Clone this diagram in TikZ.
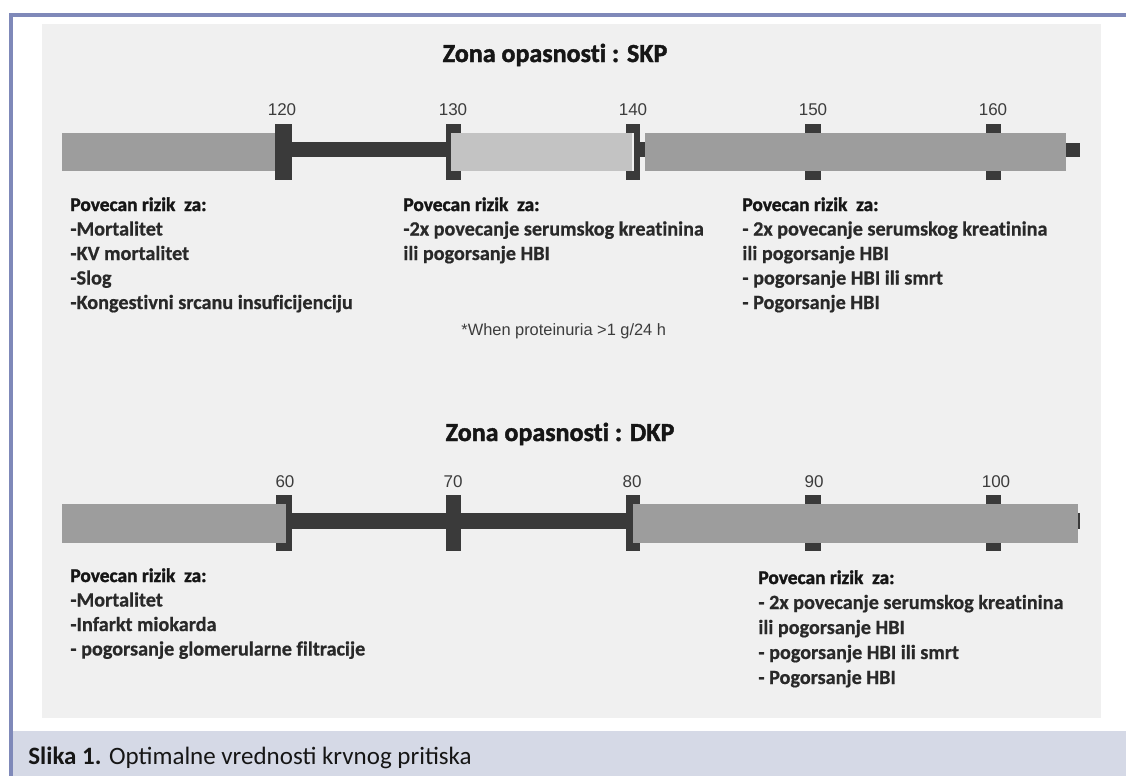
\documentclass[tikz,border=0pt]{standalone}
\usepackage{fontspec}
\setmainfont{Carlito}[Ligatures=NoCommon]
\newfontfamily\heavyfont{Carlito}[Ligatures=NoCommon, BoldFeatures={FakeBold=1.6}]
\newfontfamily\itemfont{Carlito}[Ligatures=NoCommon, BoldFeatures={FakeBold=0.7}]
\newfontfamily\capfont{Carlito}
\newfontfamily\tickfont{Liberation Sans}
\definecolor{framebl}{HTML}{7F89B9}
\definecolor{bandbl}{HTML}{D5D9E6}
\definecolor{panelgr}{HTML}{F0F0F0}
\definecolor{bargray}{HTML}{9D9D9D}
\definecolor{barlight}{HTML}{C3C3C3}
\definecolor{barink}{HTML}{3A3A3A}
\definecolor{inkc}{HTML}{161616}
\definecolor{tickc}{HTML}{3C3C3C}
\begin{document}
\begin{tikzpicture}[x=0.5pt,y=-0.5pt,
	riskhead/.style={anchor=base west, inner sep=0pt, text=inkc, font=\heavyfont\fontsize{9.7}{11}\selectfont\bfseries},
	riskitem/.style={anchor=base west, inner sep=0pt, text=inkc!92, font=\itemfont\fontsize{10.1}{12}\selectfont\bfseries},
	ticklbl/.style={anchor=base, inner sep=0pt, text=tickc, font=\tickfont\fontsize{8.5}{10}\selectfont},
	zonetitle/.style={anchor=base, inner sep=0pt, text=inkc, font=\heavyfont\fontsize{13}{15}\selectfont\bfseries},
	midbar/.style={fill=bargray},
	lightbar/.style={fill=barlight},
	inkbar/.style={fill=barink}]
		% % Frame, panel and caption band
			\useasboundingbox (0,0) rectangle (1126,776);
			\fill[framebl] (9,13) rectangle (1126,17);
			\fill[framebl] (9,13) rectangle (13,776);
			\fill[panelgr] (42,24) rectangle (1101,718);
			\fill[bandbl] (13,731) rectangle (1126,776);
			\node[anchor=base west, inner sep=0pt, text=inkc, font=\capfont\fontsize{12.5}{14}\selectfont] (caption) at (28,764)
			{\textbf{Slika 1.} Optimalne vrednosti krvnog pritiska};
		% % SKP scale
			\node[zonetitle] (skptitle) at (555,62) {Zona opasnosti : SKP};
			\foreach \x/\v in {282/120, 453/130, 633/140, 813/150, 993/160}{
				\node[ticklbl] (s\v) at (\x,115) {\v};
			}
			\fill[midbar] (62,133) rectangle (275,171);
			\fill[inkbar] (275,124) rectangle (292,180);
			\fill[inkbar] (292,142) rectangle (446,157);
			\fill[inkbar] (446,124) rectangle (451,180);
			\fill[lightbar] (451,133) rectangle (632,171);
			\fill[inkbar] (634,124) rectangle (640,180);
			\fill[inkbar] (640,142) rectangle (645,157);
			\fill[midbar] (645,133) rectangle (1066,171);
			\fill[inkbar] (1066,143) rectangle (1080,157);
			\foreach \x/\w in {446/15, 626/14, 805/16, 986/15}{
				\fill[inkbar] (\x,124) rectangle ++(\w,9);
				\fill[inkbar] (\x,171) rectangle ++(\w,9);
			}
		% % SKP notes
			\node[riskhead] (skpa) at (70,211) {Povecan rizik~ za:};
			\foreach \i/\t in {1/{-Mortalitet}, 2/{-KV mortalitet}, 3/{-Slog}, 4/{-Kongestivni srcanu insuficijenciju}}{
				\node[riskitem] (skpa\i) at (70,{211+24.5*\i}) {\t};
			}
			\node[riskhead] (skpb) at (403,211) {Povecan rizik~ za:};
			\foreach \i/\t in {1/{-2x povecanje serumskog kreatinina}, 2/{ili pogorsanje HBI}}{
				\node[riskitem] (skpb\i) at (403,{211+24.5*\i}) {\t};
			}
			\node[anchor=base west, inner sep=0pt, text=tickc, font=\tickfont\fontsize{8.2}{10}\selectfont] (proteinuria) at (461,335)
			{*When proteinuria >1 g/24 h};
			\node[riskhead] (skpc) at (742,211) {Povecan rizik~ za:};
			\foreach \i/\t in {1/{- 2x povecanje serumskog kreatinina}, 2/{ili pogorsanje HBI}, 3/{- pogorsanje HBI ili smrt}, 4/{- Pogorsanje HBI}}{
				\node[riskitem] (skpc\i) at (742,{211+24.5*\i}) {\t};
			}
		% % DKP scale
			\node[zonetitle] (dkptitle) at (560,441) {Zona opasnosti : DKP};
			\foreach \x/\v in {285/60, 453/70, 632/80, 814/90, 996/100}{
				\node[ticklbl] (d\v) at (\x,487) {\v};
			}
			\fill[midbar] (62,504) rectangle (286,543);
			\fill[inkbar] (286,495) rectangle (292,551);
			\fill[inkbar] (292,513) rectangle (626,529);
			\fill[inkbar] (446,495) rectangle (461,551);
			\fill[inkbar] (626,495) rectangle (633,551);
			\fill[midbar] (633,504) rectangle (1078,543);
			\fill[inkbar] (1078,513) rectangle (1080,529);
			\foreach \x/\w in {276/16, 626/14, 805/16, 986/15}{
				\fill[inkbar] (\x,495) rectangle ++(\w,9);
				\fill[inkbar] (\x,543) rectangle ++(\w,8);
			}
		% % DKP notes
			\node[riskhead] (dkpa) at (70,582) {Povecan rizik~ za:};
			\foreach \i/\t in {1/{-Mortalitet}, 2/{-Infarkt miokarda}, 3/{- pogorsanje glomerularne filtracije}}{
				\node[riskitem] (dkpa\i) at (70,{582+24.5*\i}) {\t};
			}
			\node[riskhead] (dkpb) at (758,584) {Povecan rizik~ za:};
			\foreach \i/\t in {1/{- 2x povecanje serumskog kreatinina}, 2/{ili pogorsanje HBI}, 3/{- pogorsanje HBI ili smrt}, 4/{- Pogorsanje HBI}}{
				\node[riskitem] (dkpb\i) at (758,{584+25*\i}) {\t};
			}
\end{tikzpicture}
\end{document}
